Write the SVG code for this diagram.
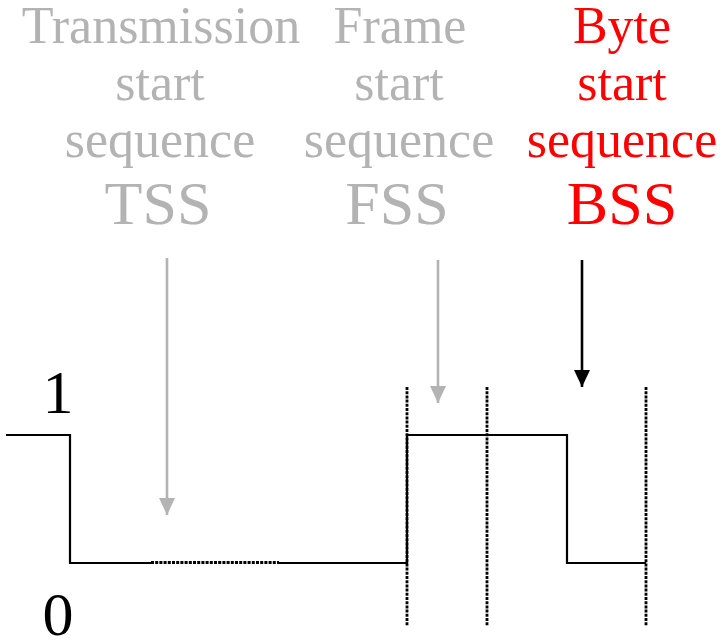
<svg xmlns="http://www.w3.org/2000/svg" width="727" height="640" viewBox="0 0 727 640">
<style>
text{font-family:"Liberation Serif","Times New Roman",serif;text-anchor:middle}
.g{fill:#b3b3b3}
.r{fill:#ff0000}
.k{fill:#000}
.l{font-size:52px}
.b{font-size:62px}
.n{font-size:62px}
.sig{fill:none;stroke:#000;stroke-width:2.2}
.dot{fill:none;stroke:#000;stroke-width:2.8;stroke-dasharray:3 1.2}
.ag{stroke:#b3b3b3;stroke-width:2.6}
.ak{stroke:#000;stroke-width:2.6}
</style>
<defs>
<marker id="mg" viewBox="0 0 17 16" refX="17" refY="8" markerWidth="17" markerHeight="16" markerUnits="userSpaceOnUse" orient="auto">
<path d="M0,0 L17,8 L0,16 Z" fill="#b3b3b3"/>
</marker>
<marker id="mk" viewBox="0 0 17 16" refX="17" refY="8" markerWidth="17" markerHeight="16" markerUnits="userSpaceOnUse" orient="auto">
<path d="M0,0 L17,8 L0,16 Z" fill="#000"/>
</marker>
</defs>
<g id="tss-label">
<text class="g l" x="161" y="43">Transmission</text>
<text class="g l" x="160" y="100">start</text>
<text class="g l" x="160" y="157">sequence</text>
<text class="g b" x="158" y="224">TSS</text>
</g>
<g id="fss-label">
<text class="g l" x="400" y="43">Frame</text>
<text class="g l" x="399" y="100">start</text>
<text class="g l" x="399" y="157">sequence</text>
<text class="g b" x="397" y="224">FSS</text>
</g>
<g id="bss-label">
<text class="r l" x="622" y="43">Byte</text>
<text class="r l" x="622" y="100">start</text>
<text class="r l" x="622" y="157">sequence</text>
<text class="r b" x="622" y="224">BSS</text>
</g>
<g id="level-1"><text class="k n" x="58" y="413">1</text></g>
<g id="level-0"><text class="k n" x="58" y="635">0</text></g>
<g id="signal">
<polyline class="sig" points="6,435 70,435 70,563 151,563"/>
<line class="dot" x1="151" y1="562.5" x2="279" y2="562.5"/>
<polyline class="sig" points="279,563 407,563 407,435 567,435 567,563 646,563"/>
</g>
<g id="bit-boundaries">
<line class="dot" x1="407" y1="387" x2="407" y2="626"/>
<line class="dot" x1="487" y1="387" x2="487" y2="626"/>
<line class="dot" x1="646" y1="387" x2="646" y2="626"/>
</g>
<g id="connectors">
<line class="ag" x1="167" y1="258" x2="167" y2="515" marker-end="url(#mg)"/>
<line class="ag" x1="438" y1="260" x2="438" y2="403" marker-end="url(#mg)"/>
<line class="ak" x1="582" y1="260" x2="582" y2="387" marker-end="url(#mk)"/>
</g>
</svg>
